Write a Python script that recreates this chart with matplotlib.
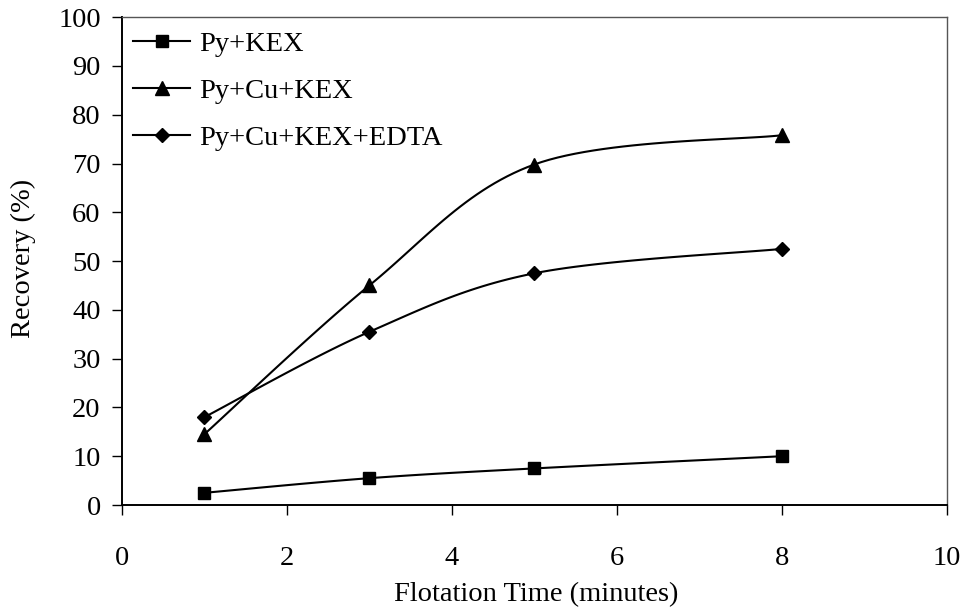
import numpy as np
import matplotlib
matplotlib.use("Agg")
import matplotlib.pyplot as plt

time_min = [1, 3, 5, 8]
py_kex = [2.5, 5.5, 7.5, 10.0]
py_cu_kex = [14.5, 45.0, 69.8, 75.8]
py_cu_kex_edta = [18.0, 35.5, 47.5, 52.5]
series_names = ["Py+KEX", "Py+Cu+KEX", "Py+Cu+KEX+EDTA"]
markers = ["s", "^", "D"]
msizes = [9, 10.5, 7.5]
xticks = [0, 2, 4, 6, 8, 10]
yticks = list(range(0, 101, 10))

plt.rcParams['font.family'] = ['Liberation Serif', 'DejaVu Serif']
FS = 20.5


def smooth(x, y, n=30):
    # Excel-style smoothing: cubic Bezier segments with Catmull-Rom control points
    p = np.column_stack([x, y]).astype(float)
    m = len(p)
    out = [p[0]]
    for i in range(m - 1):
        p0 = p[i - 1] if i > 0 else p[i]
        p3 = p[i + 2] if i + 2 < m else p[i + 1]
        c1 = p[i] + (p[i + 1] - p0) / 6.0
        c2 = p[i + 1] - (p3 - p[i]) / 6.0
        t = np.linspace(0, 1, n)[1:, None]
        seg = ((1 - t) ** 3) * p[i] + 3 * ((1 - t) ** 2) * t * c1 + 3 * (1 - t) * t ** 2 * c2 + t ** 3 * p[i + 1]
        out.extend(seg)
    out = np.array(out)
    return out[:, 0], out[:, 1]


fig = plt.figure(figsize=(9.67, 6.14), dpi=100)
ax = fig.add_axes([0.126, 0.1775, 0.853, 0.7945])

for ys, name, mk, ms in zip([py_kex, py_cu_kex, py_cu_kex_edta], series_names, markers, msizes):
    sx, sy = smooth(time_min, ys)
    ax.plot(sx, sy, color='black', lw=1.5, zorder=2)
    ax.plot(time_min, ys, linestyle='none', marker=mk, ms=ms, color='black', zorder=3)
    ax.plot([], [], color='black', lw=1.5, marker=mk, ms=ms, label=name)

ax.set_xlim(0, 10)
ax.set_ylim(0, 100)
ax.set_xticks(xticks)
ax.set_yticks(yticks)
ax.tick_params(axis='both', labelsize=FS, direction='out', length=7.2, width=1, color='black')
ax.tick_params(axis='x', pad=22)
ax.tick_params(axis='y', pad=8)
for s in ['left', 'bottom']:
    ax.spines[s].set_color('black')
    ax.spines[s].set_linewidth(1.4)
for s in ['top', 'right']:
    ax.spines[s].set_color('#555555')
    ax.spines[s].set_linewidth(1.0)

fig.text(536.5 / 967, 1 - 595 / 614, "Flotation Time (minutes)", fontsize=FS,
         ha='center', va='center')
fig.text(23 / 967, 1 - 258 / 614, "Recovery (%)", fontsize=FS,
         ha='center', va='center', rotation=90)

leg = ax.legend(loc='upper left', frameon=False, fontsize=FS, handlelength=2.0,
                handletextpad=0.3, labelspacing=0.74, borderaxespad=0.0,
                bbox_to_anchor=(0.0, 0.995))

fig.savefig("out.png", dpi=100)
